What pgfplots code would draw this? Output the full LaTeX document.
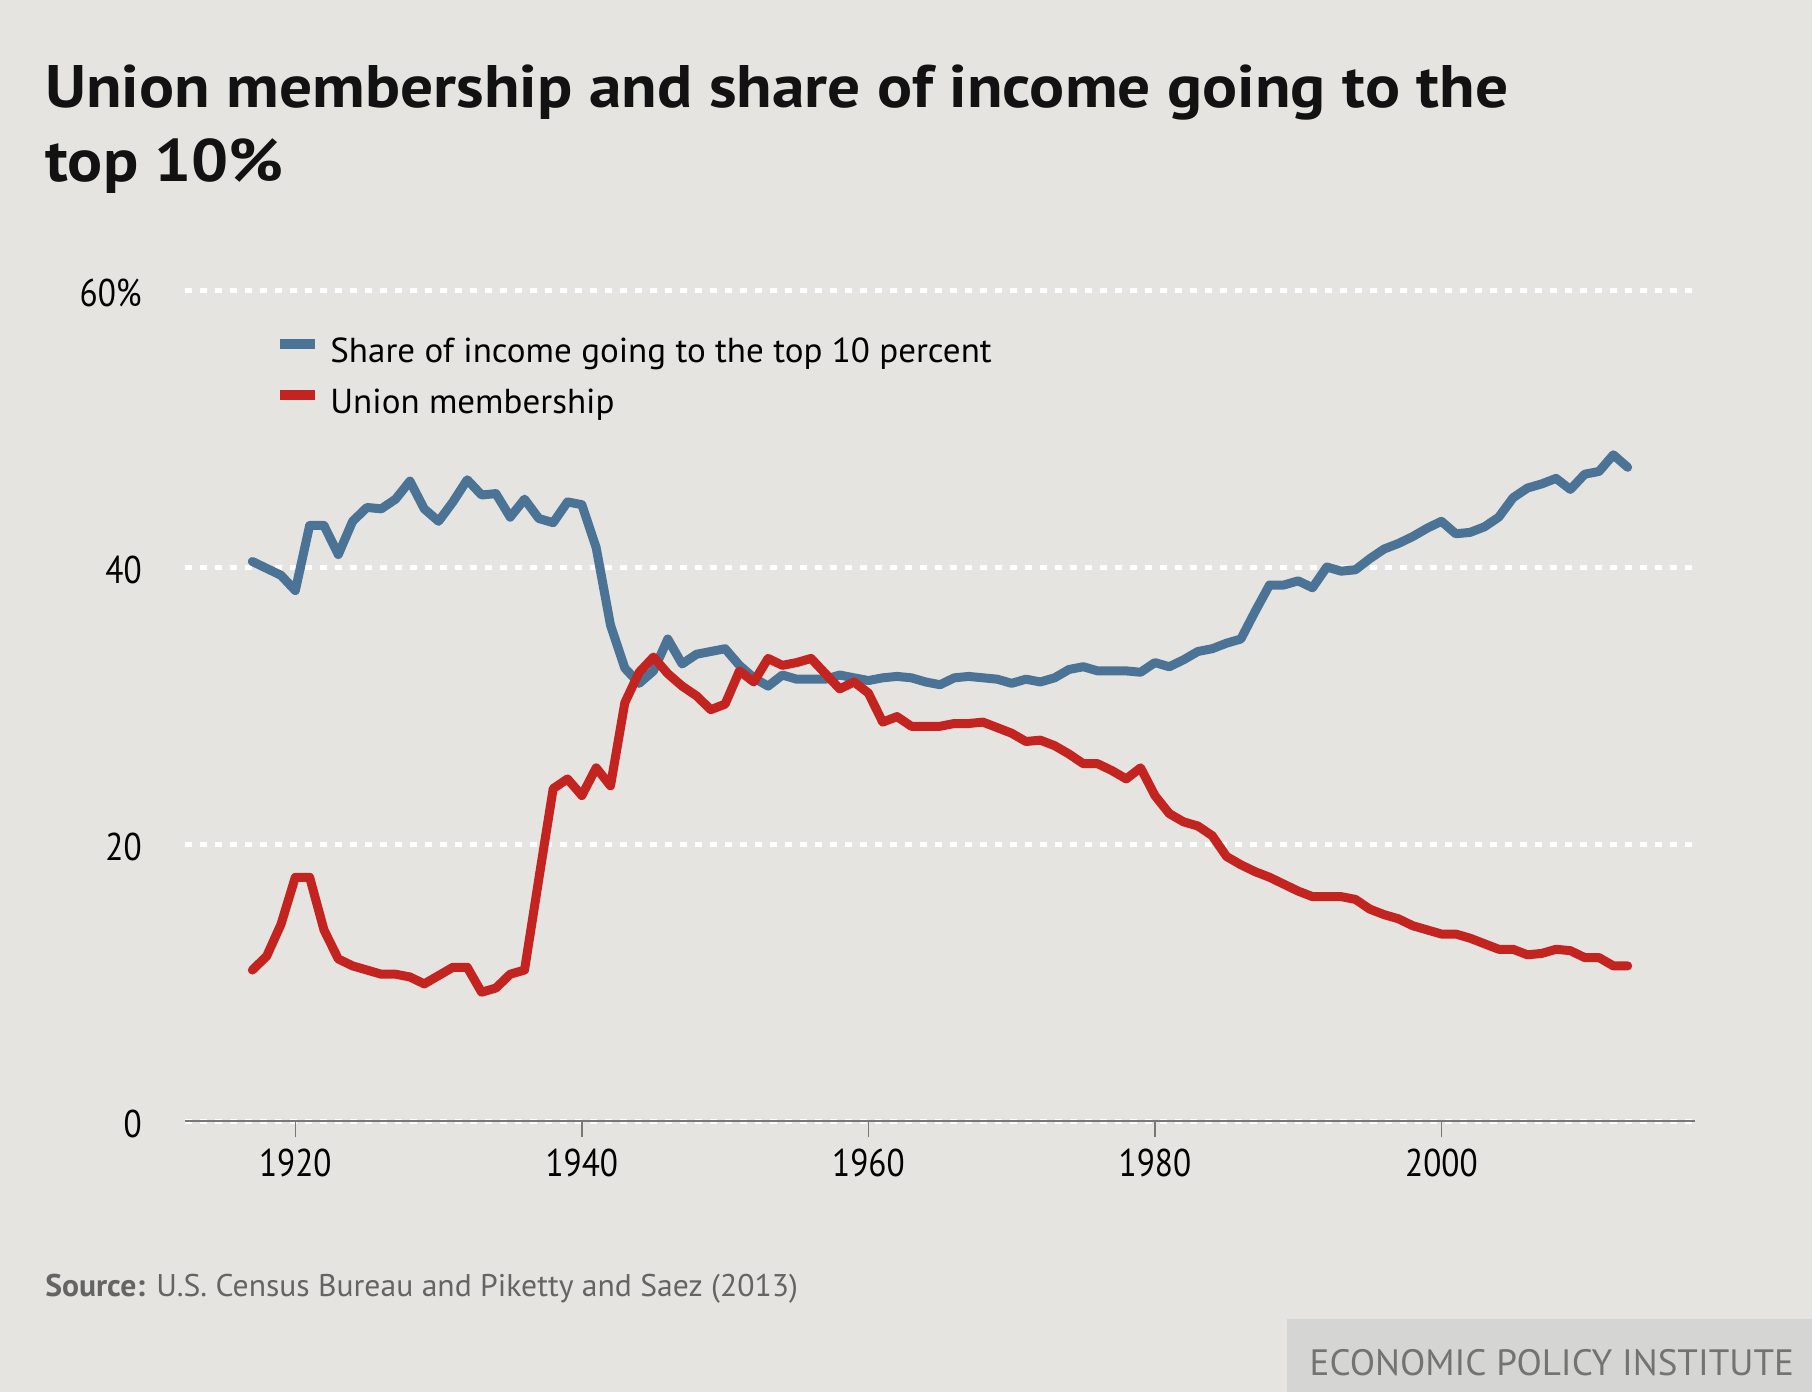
\documentclass[border=0pt]{standalone}
\usepackage{pgfplots}
\pgfplotsset{compat=1.18}
\usepackage{fontspec}
\setmainfont{PT Sans}[FakeStretch=1.01]
\newfontfamily\tickfont{PT Sans}[FakeStretch=0.86]
\newfontfamily\titlefont{PT Sans}[FakeStretch=1.09]
\definecolor{bg}{RGB}{229,228,224}
\definecolor{epiblue}{RGB}{74,115,150}
\definecolor{epired}{RGB}{196,36,32}
\definecolor{boxgray}{RGB}{213,213,211}
\definecolor{srcgray}{RGB}{100,100,100}
\definecolor{axisgray}{RGB}{120,120,120}

\pgfplotstableread{
year share
1917 40.4
1918 39.9
1919 39.4
1920 38.3
1921 43.0
1922 43.0
1923 40.9
1924 43.3
1925 44.3
1926 44.2
1927 44.9
1928 46.2
1929 44.2
1930 43.3
1931 44.7
1932 46.3
1933 45.2
1934 45.3
1935 43.6
1936 44.9
1937 43.5
1938 43.2
1939 44.7
1940 44.5
1941 41.4
1942 35.8
1943 32.7
1944 31.6
1945 32.5
1946 34.8
1947 33.0
1948 33.7
1949 33.9
1950 34.1
1951 32.9
1952 32.0
1953 31.4
1954 32.2
1955 31.9
1956 31.9
1957 31.9
1958 32.2
1959 32.0
1960 31.8
1961 32.0
1962 32.1
1963 32.0
1964 31.7
1965 31.5
1966 32.0
1967 32.1
1968 32.0
1969 31.9
1970 31.6
1971 31.9
1972 31.7
1973 32.0
1974 32.6
1975 32.8
1976 32.5
1977 32.5
1978 32.5
1979 32.4
1980 33.1
1981 32.8
1982 33.3
1983 33.9
1984 34.1
1985 34.5
1986 34.8
1987 36.8
1988 38.7
1989 38.7
1990 39.0
1991 38.5
1992 40.0
1993 39.7
1994 39.8
1995 40.6
1996 41.3
1997 41.7
1998 42.2
1999 42.8
2000 43.3
2001 42.4
2002 42.5
2003 42.9
2004 43.6
2005 45.0
2006 45.7
2007 46.0
2008 46.4
2009 45.6
2010 46.7
2011 46.9
2012 48.1
2013 47.2
}\sharetable

\pgfplotstableread{
year union
1917 10.9
1918 11.9
1919 14.2
1920 17.6
1921 17.6
1922 13.8
1923 11.7
1924 11.2
1925 10.9
1926 10.6
1927 10.6
1928 10.4
1929 9.9
1930 10.5
1931 11.1
1932 11.1
1933 9.3
1934 9.6
1935 10.6
1936 10.9
1937 17.5
1938 24.0
1939 24.7
1940 23.5
1941 25.5
1942 24.2
1943 30.2
1944 32.4
1945 33.5
1946 32.3
1947 31.4
1948 30.7
1949 29.7
1950 30.1
1951 32.5
1952 31.7
1953 33.4
1954 32.9
1955 33.1
1956 33.4
1957 32.3
1958 31.2
1959 31.7
1960 30.9
1961 28.8
1962 29.2
1963 28.5
1964 28.5
1965 28.5
1966 28.7
1967 28.7
1968 28.8
1969 28.4
1970 28.0
1971 27.4
1972 27.5
1973 27.1
1974 26.5
1975 25.8
1976 25.8
1977 25.3
1978 24.7
1979 25.5
1980 23.5
1981 22.2
1982 21.6
1983 21.3
1984 20.6
1985 19.1
1986 18.5
1987 18.0
1988 17.6
1989 17.1
1990 16.6
1991 16.2
1992 16.2
1993 16.2
1994 16.0
1995 15.3
1996 14.9
1997 14.6
1998 14.1
1999 13.8
2000 13.5
2001 13.5
2002 13.2
2003 12.8
2004 12.4
2005 12.4
2006 12.0
2007 12.1
2008 12.4
2009 12.3
2010 11.8
2011 11.8
2012 11.2
2013 11.2
}\uniontable

\begin{document}
\begin{tikzpicture}
\fill[bg] (0pt,0pt) rectangle (543.6pt,-417.6pt);
\fill[boxgray] (386.1pt,-395.7pt) rectangle (543.6pt,-417.6pt);
\node[anchor=base west, inner sep=0pt, font=\titlefont\bfseries\fontsize{18}{20}\selectfont, text=black!93] at (13.4pt,-32.2pt) {Union membership and share of income going to the};
\node[anchor=base west, inner sep=0pt, font=\titlefont\bfseries\fontsize{18}{20}\selectfont, text=black!93] at (13.4pt,-54.5pt) {top 10\%};
\node[anchor=base west, inner sep=0pt, font=\fontsize{9.4}{11}\selectfont, text=srcgray] at (13.4pt,-388.8pt) {\textbf{Source:} U.S. Census Bureau and Piketty and Saez (2013)};
\node[anchor=base west, inner sep=0pt, font=\fontsize{11}{13}\selectfont, text=black!55] at (392.7pt,-412.7pt) {ECONOMIC POLICY INSTITUTE};
\begin{axis}[
  at={(55.5pt,-336.3pt)}, anchor=south west,
  scale only axis, width=453pt, height=249.3pt,
  xmin=1912.3, xmax=2017.7, ymin=0, ymax=60,
  clip=false,
  axis x line*=bottom, axis y line*=left,
  x axis line style={draw=axisgray, line width=0.8pt, -},
  y axis line style={draw=none},
  xtick={1920,1940,1960,1980,2000},
  xticklabels={1920,1940,1960,1980,2000},
  ytick={0,20,40,60},
  yticklabels={0,20,40,60\%},
  tick align=outside,
  major tick length=4.8pt,
  xtick style={draw=axisgray, line width=0.45pt},
  ytick style={draw=none},
  ymajorgrids,
  major grid style={draw=white, line width=1.5pt, dash pattern=on 2.2pt off 2.3pt},
  yticklabel style={anchor=east, inner sep=0pt, xshift=-8pt, yshift=-1pt, font=\tickfont\fontsize{11.6}{12}\selectfont},
  xticklabel style={anchor=north, inner sep=0pt, yshift=-3.5pt, font=\tickfont\fontsize{11.6}{12}\selectfont},
  legend cell align=left,
  legend style={at={(axis description cs:0.0592,0.9418)}, anchor=north west, draw=none, fill=none, inner sep=0pt,
    row sep=6.3pt, font=\fontsize{10.4}{12}\selectfont,
    nodes={inner sep=0pt, text height=7pt, text depth=2pt},
    /tikz/every odd column/.append style={column sep=3.2pt}},
  legend image code/.code={\draw[#1, line width=3pt, line cap=butt] (0pt,2.9pt) -- (10.4pt,2.9pt);},
]
\addplot[epiblue, line width=2.7pt, line join=round, line cap=round] table[x=year, y=share] {\sharetable};
\addlegendentry{Share of income going to the top 10 percent}
\addplot[epired, line width=2.7pt, line join=round, line cap=round] table[x=year, y=union] {\uniontable};
\addlegendentry{Union membership}
\end{axis}
\end{tikzpicture}
\end{document}
